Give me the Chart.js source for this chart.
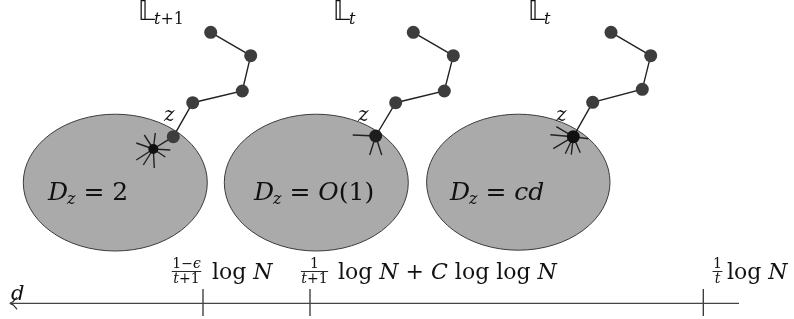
<!DOCTYPE html>
<html>
<head>
<meta charset="utf-8">
<script src="https://cdn.jsdelivr.net/npm/chart.js@4"></script>
<style>
  html, body { margin: 0; padding: 0; background: #fff; }
  #wrap { width: 794px; height: 319px; }
</style>
</head>
<body>
<div id="wrap"><canvas id="diagram"></canvas></div>
<script>
// walk chains (pixel-like units, y grows downward)
const chain1X = [210.7, 250.7, 242.3, 192.7, 173.3, 153.3];
const chain1Y = [32.3, 55.7, 91.0, 102.7, 136.7, 149.0];
const chain2X = [413.3, 453.3, 444.3, 395.7, 375.7];
const chain2Y = [32.3, 55.7, 91.0, 102.7, 136.0];
const chain3X = [611.0, 650.7, 642.3, 592.7, 573.3];
const chain3Y = [32.3, 55.7, 89.3, 102.3, 136.7];

// star centres and spoke ends
const starX = [153.3, 375.7, 573.3];
const starY = [149.0, 136.0, 136.7];
const spokes1 = [[-17, -6], [-9, -14], [2, -16], [17, 1], [-17, 11], [-10, 16], [1, 19], [12, 8]];
const spokes2 = [[-23, -1], [-6, 19], [6, 19]];
const spokes3 = [[-23, -2], [-17, -10], [-20, 12], [-8, 17], [-2, 18], [7, 16], [15, 2]];

// discs D_z
const discX = [115.3, 316.3, 518.3];
const discY = [182.6, 182.6, 182.2];
const discRx = [92, 92, 91.7];
const discRy = [68.4, 68.4, 68];

// d axis and its ticks
const axisX = [739, 10];
const axisY = 303.3;
const tickX = [203, 310, 703.3];

function toPts(xs, ys) {
  return xs.map((x, i) => ({ x: x, y: ys[i] }));
}

function spokePts(cx, cy, list) {
  const pts = [];
  list.forEach(d => {
    pts.push({ x: cx, y: cy }, { x: cx + d[0], y: cy + d[1] }, { x: null, y: null });
  });
  return pts;
}

const tickPts = [];
tickX.forEach(x => {
  tickPts.push({ x: x, y: 289 }, { x: x, y: 316 }, { x: null, y: null });
});

const lineStyle = { showLine: true, borderColor: '#222', borderWidth: 1.4, spanGaps: false, fill: false, tension: 0 };

const discPlugin = {
  id: 'discs',
  beforeDatasetsDraw(chart) {
    const { ctx, scales: { x, y } } = chart;
    ctx.save();
    discX.forEach((cx, i) => {
      const px = x.getPixelForValue(cx);
      const py = y.getPixelForValue(discY[i]);
      const rx = Math.abs(x.getPixelForValue(cx + discRx[i]) - px);
      const ry = Math.abs(y.getPixelForValue(discY[i] + discRy[i]) - py);
      ctx.beginPath();
      ctx.ellipse(px, py, rx, ry, 0, 0, Math.PI * 2);
      ctx.fillStyle = '#aaaaaa';
      ctx.fill();
      ctx.lineWidth = 1;
      ctx.strokeStyle = '#3a3a3a';
      ctx.stroke();
    });
    ctx.restore();
  }
};

const IT = 'italic ';
const SERIF = 'px "DejaVu Serif", "Liberation Serif", serif';
const BB = 'px "DejaVu Sans", "DejaVu Serif", sans-serif';

function runs(ctx, x, y, parts) {
  let cx = x;
  parts.forEach(p => {
    ctx.font = p.f;
    cx += p.dx || 0;
    ctx.fillText(p.t, cx, y + (p.dy || 0));
    cx += ctx.measureText(p.t).width;
  });
  return cx;
}

function measureMixed(ctx, parts) {
  let w = 0;
  parts.forEach(p => { ctx.font = p.f; w += (p.dx || 0) + ctx.measureText(p.t).width; });
  return w;
}

function frac(ctx, cx, y, num, den) {
  const wn = measureMixed(ctx, num);
  const wd = measureMixed(ctx, den);
  const bw = Math.max(wn, wd) + 1;
  ctx.fillRect(cx - bw / 2, y, bw, 0.9);
  runs(ctx, cx - wn / 2, y - 3, num);
  runs(ctx, cx - wd / 2, y + 12, den);
}

const textPlugin = {
  id: 'labels',
  afterDatasetsDraw(chart) {
    const { ctx, scales: { x, y } } = chart;
    const X = v => x.getPixelForValue(v);
    const Y = v => y.getPixelForValue(v);
    ctx.save();
    ctx.fillStyle = '#111';
    ctx.textBaseline = 'alphabetic';

    // L labels
    const sub1 = IT + '16' + SERIF, sub0 = '16' + SERIF;
    [[138, true], [333, false], [528, false]].forEach(l => {
      const end = runs(ctx, X(l[0]), Y(19.5), [{ t: '\u{1D543}', f: '26' + BB }]);
      const sub = l[1] ? [{ t: 't', f: sub1 }, { t: '+1', f: sub0 }] : [{ t: 't', f: sub1 }];
      runs(ctx, end - 1, Y(23.5), sub);
    });

    // z labels
    [[164, 121], [358, 121], [556, 121]].forEach(p => {
      runs(ctx, X(p[0]), Y(p[1]), [{ t: 'z', f: IT + '20' + SERIF }]);
    });

    // disc labels
    const big = 25;
    const eq = (x0, rhs) => runs(ctx, X(x0), Y(200), [
      { t: 'D', f: IT + big + SERIF },
      { t: 'z', f: IT + '16' + SERIF, dy: 4, dx: -1 },
      { t: ' = ', f: big + SERIF, dx: 0 },
    ].concat(rhs));
    eq(48, [{ t: '2', f: big + SERIF }]);
    eq(254, [{ t: 'O', f: IT + big + SERIF }, { t: '(1)', f: big + SERIF }]);
    eq(450, [{ t: 'cd', f: IT + big + SERIF }]);

    // axis labels
    runs(ctx, X(11), Y(300), [{ t: 'd', f: IT + '21' + SERIF }]);
    const sm = 14;
    const r = sm + SERIF, ri = IT + sm + SERIF;
    const lg = 22, L0 = lg + SERIF, LI = IT + lg + SERIF;
    frac(ctx, X(186.5), Y(271), [{ t: '1\u2212', f: r }, { t: '\u03F5', f: ri }],
      [{ t: 't', f: ri }, { t: '+1', f: r }]);
    runs(ctx, X(212), Y(279), [{ t: 'log ', f: L0 }, { t: 'N', f: LI }]);
    frac(ctx, X(314.5), Y(271), [{ t: '1', f: r }], [{ t: 't', f: ri }, { t: '+1', f: r }]);
    runs(ctx, X(338), Y(279), [
      { t: 'log ', f: L0 }, { t: 'N', f: LI },
      { t: ' + ', f: L0 }, { t: 'C', f: LI },
      { t: ' log log ', f: L0 }, { t: 'N', f: LI }
    ]);
    frac(ctx, X(717.5), Y(271), [{ t: '1', f: r }], [{ t: 't', f: ri }]);
    runs(ctx, X(727), Y(279), [{ t: 'log ', f: L0 }, { t: 'N', f: LI }]);

    ctx.restore();
  }
};

const dotGray = '#3d3d3d';
const chainDs = (xs, ys, lastR, lastC) => Object.assign({}, lineStyle, {
  data: toPts(xs, ys),
  pointRadius: xs.map((_, i) => i === xs.length - 1 ? lastR : 6.5),
  pointBackgroundColor: xs.map((_, i) => i === xs.length - 1 ? lastC : dotGray),
  pointBorderWidth: 0,
  order: 1
});

const spokeDs = (pts) => Object.assign({}, lineStyle, { data: pts, pointRadius: 0, order: 2 });

new Chart(document.getElementById('diagram'), {
  type: 'scatter',
  data: {
    datasets: [
      chainDs(chain1X, chain1Y, 5, '#111'),
      chainDs(chain2X, chain2Y, 6.5, '#1e1e1e'),
      chainDs(chain3X, chain3Y, 6.5, '#111'),
      spokeDs(spokePts(starX[0], starY[0], spokes1)),
      spokeDs(spokePts(starX[1], starY[1], spokes2)),
      spokeDs(spokePts(starX[2], starY[2], spokes3)),
      Object.assign({}, lineStyle, {
        data: [{ x: axisX[0], y: axisY }, { x: axisX[1], y: axisY }],
        borderColor: '#444', borderWidth: 1.3, pointRadius: 0
      }),
      Object.assign({}, lineStyle, {
        data: [{ x: axisX[1] + 7, y: axisY - 6 }, { x: axisX[1] + 3, y: axisY - 1.5 }, { x: axisX[1], y: axisY },
               { x: axisX[1] + 3, y: axisY + 1.5 }, { x: axisX[1] + 7, y: axisY + 6 }],
        borderColor: '#333', borderWidth: 1.3, pointRadius: 0, tension: 0.2
      }),
      Object.assign({}, lineStyle, { data: tickPts, borderColor: '#333', borderWidth: 1.3, pointRadius: 0 })
    ]
  },
  options: {
    responsive: true,
    maintainAspectRatio: false,
    animation: false,
    layout: { padding: 0, autoPadding: false },
    plugins: { legend: { display: false }, tooltip: { enabled: false } },
    scales: {
      x: { type: 'linear', min: 0, max: 794, display: false },
      y: { type: 'linear', min: 0, max: 319, reverse: true, display: false }
    }
  },
  plugins: [discPlugin, textPlugin]
});
</script>
</body>
</html>
